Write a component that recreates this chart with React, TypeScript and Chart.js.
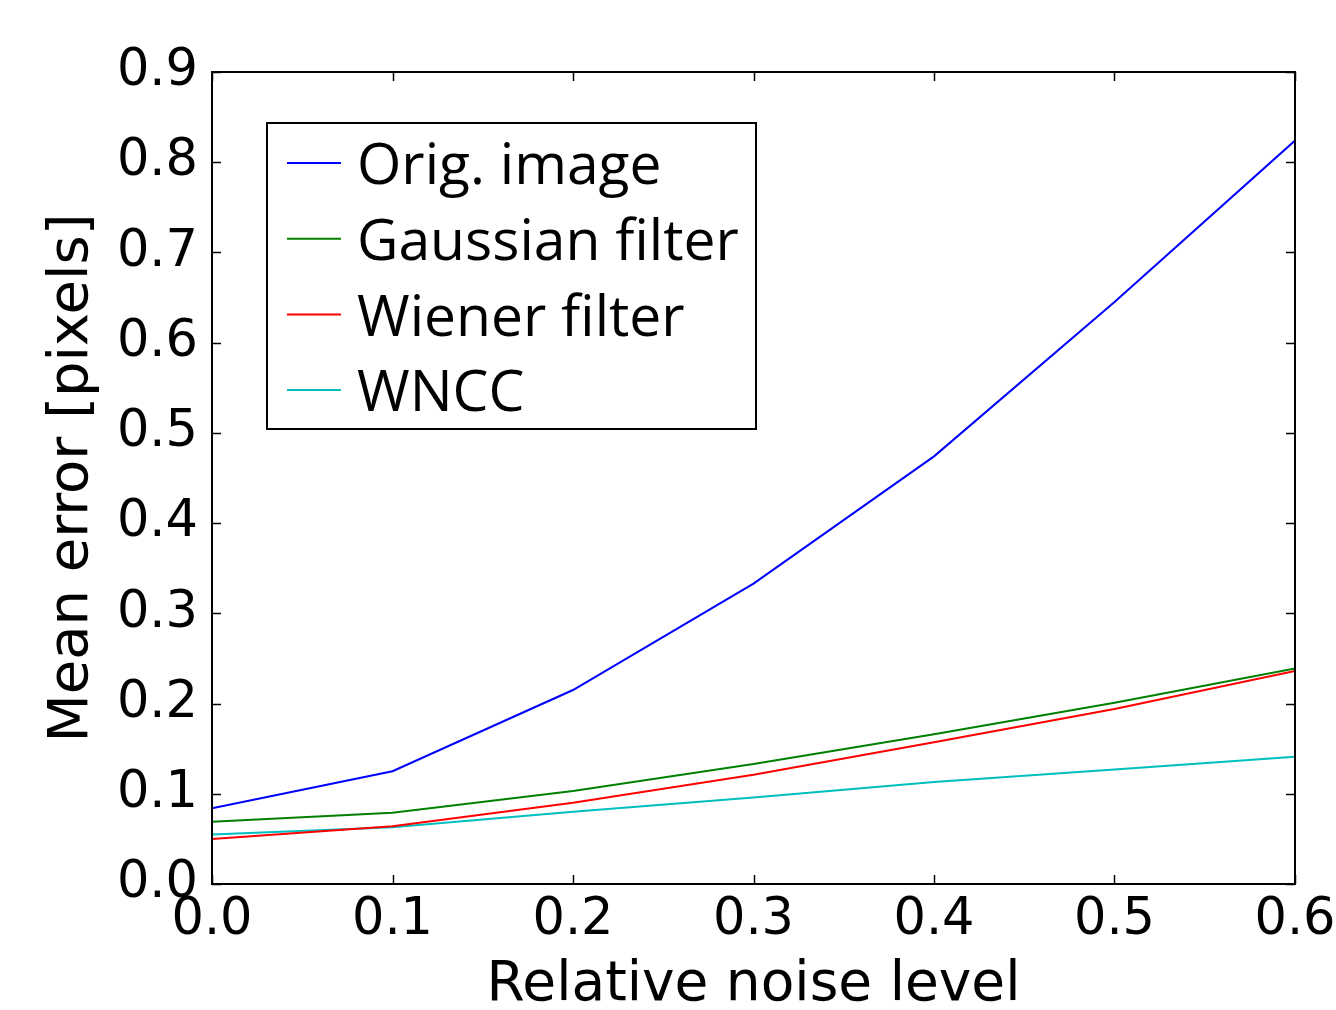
import React, { useEffect, useRef } from "react";
import { Chart, registerables } from "chart.js";

Chart.register(...registerables);

const noiseLevels = [0.0, 0.1, 0.2, 0.3, 0.4, 0.5, 0.6];
const origImage = [0.084, 0.125, 0.215, 0.333, 0.474, 0.645, 0.824];
const gaussianFilter = [0.069, 0.079, 0.103, 0.133, 0.166, 0.201, 0.239];
const wienerFilter = [0.050, 0.064, 0.090, 0.121, 0.157, 0.194, 0.236];
const wncc = [0.055, 0.063, 0.080, 0.096, 0.113, 0.127, 0.141];
const seriesLabels = ["Orig. image", "Gaussian filter", "Wiener filter", "WNCC"];
const seriesColors = ["#0000ff", "#008000", "#ff0000", "#00bfbf"];
const xTitle = "Relative noise level";
const yTitle = "Mean error [pixels]";

const W = 1336;
const H = 1010;

const frameAndTicks = {
  id: "frameAndTicks",
  afterDatasetsDraw(chart: any) {
    const { ctx, chartArea: a, scales } = chart;
    ctx.save();
    ctx.strokeStyle = "#000";
    ctx.lineWidth = 2;
    ctx.strokeRect(a.left, a.top, a.right - a.left, a.bottom - a.top);
    const tl = 9;
    ctx.lineWidth = 1.5;
    ctx.beginPath();
    scales.x.ticks.forEach((t: any) => {
      const px = Math.round(scales.x.getPixelForValue(t.value)) + 0.5;
      ctx.moveTo(px, a.bottom);
      ctx.lineTo(px, a.bottom - tl);
      ctx.moveTo(px, a.top);
      ctx.lineTo(px, a.top + tl);
    });
    scales.y.ticks.forEach((t: any) => {
      const py = Math.round(scales.y.getPixelForValue(t.value)) + 0.5;
      ctx.moveTo(a.left, py);
      ctx.lineTo(a.left + tl, py);
      ctx.moveTo(a.right, py);
      ctx.lineTo(a.right - tl, py);
    });
    ctx.stroke();
    ctx.restore();
  },
};

const insideLegend = {
  id: "insideLegend",
  afterDraw(chart: any) {
    const { ctx, chartArea: a } = chart;
    const boxL = 267;
    const boxT = a.top + 51;
    const boxW = 489;
    const boxH = 306;
    ctx.save();
    ctx.fillStyle = "#fff";
    ctx.fillRect(boxL, boxT, boxW, boxH);
    ctx.strokeStyle = "#000";
    ctx.lineWidth = 2;
    ctx.strokeRect(boxL, boxT, boxW, boxH);
    ctx.font = "57px 'Open Sans'";
    ctx.textBaseline = "middle";
    ctx.textAlign = "left";
    chart.data.datasets.forEach((ds: any, i: number) => {
      const y = boxT + 40 + i * 75.7;
      ctx.strokeStyle = ds.borderColor;
      ctx.lineWidth = 2;
      ctx.beginPath();
      ctx.moveTo(boxL + 20, y);
      ctx.lineTo(boxL + 74, y);
      ctx.stroke();
      ctx.fillStyle = "#000";
      ctx.fillText(ds.label, boxL + 90, y + 5);
    });
    ctx.restore();
  },
};

export default function App() {
  const ref = useRef<HTMLCanvasElement | null>(null);
  useEffect(() => {
    if (!ref.current) return;
    const seriesValues = [origImage, gaussianFilter, wienerFilter, wncc];
    const chart = new Chart(ref.current, {
      type: "line",
      data: {
        datasets: seriesValues.map((vals, i) => ({
          label: seriesLabels[i],
          data: noiseLevels.map((x, j) => ({ x, y: vals[j] })),
          borderColor: seriesColors[i],
          backgroundColor: seriesColors[i],
          borderWidth: 2,
          pointRadius: 0,
          tension: 0,
          fill: false,
        })),
      },
      options: {
        responsive: false,
        animation: false,
        layout: { padding: { left: 0, right: 41, top: 72, bottom: 0 } },
        plugins: { legend: { display: false }, tooltip: { enabled: false } },
        scales: {
          x: {
            type: "linear",
            min: 0,
            max: 0.6,
            grid: { display: false, drawTicks: false },
            border: { display: false },
            afterFit: (s: any) => {
              s.height = 126;
              s.paddingRight = 0;
              s.paddingLeft = 0;
            },
            ticks: {
              stepSize: 0.1,
              padding: 6,
              color: "#000",
              maxRotation: 0,
              font: { family: "'DejaVu Sans'", size: 51 },
              callback: (v: any) => Number(v).toFixed(1),
            },
            title: {
              display: true,
              text: xTitle,
              color: "#000",
              font: { family: "'DejaVu Sans'", size: 55, lineHeight: 0.88 },
              padding: { top: 0, bottom: 0 },
            },
          },
          y: {
            min: 0,
            max: 0.9,
            grid: { display: false, drawTicks: false },
            border: { display: false },
            afterFit: (s: any) => {
              s.width = 212;
              s.paddingTop = 0;
              s.paddingBottom = 0;
            },
            ticks: {
              stepSize: 0.1,
              padding: 14,
              color: "#000",
              font: { family: "'DejaVu Sans'", size: 51 },
              callback: (v: any) => Number(v).toFixed(1),
            },
            title: {
              display: true,
              text: yTitle,
              color: "#000",
              font: { family: "'DejaVu Sans'", size: 56, lineHeight: 1.0 },
              padding: { top: 44, bottom: 0 },
            },
          },
        },
      },
      plugins: [frameAndTicks, insideLegend],
    });
    return () => chart.destroy();
  }, []);
  return (
    <div style={{ position: "fixed", left: 0, top: 0, width: W, height: H, background: "#fff" }}>
      <canvas ref={ref} width={W} height={H} style={{ width: W, height: H, display: "block" }} />
    </div>
  );
}
